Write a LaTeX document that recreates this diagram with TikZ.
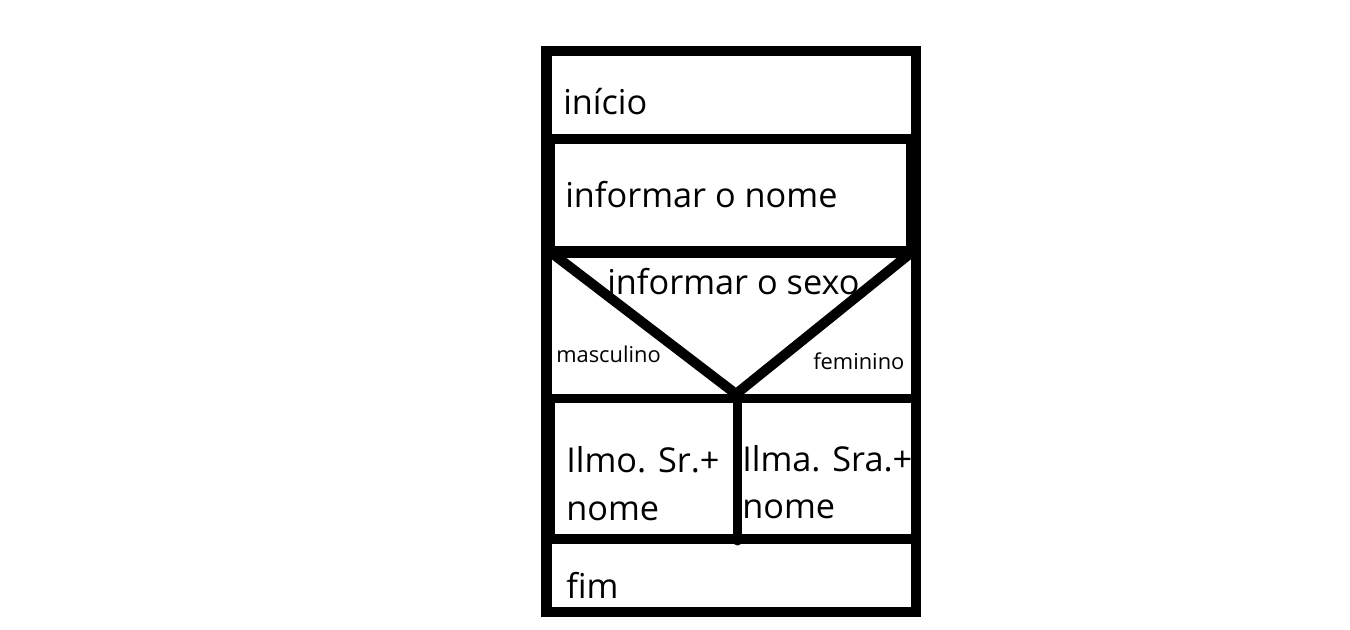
\documentclass[tikz,border=0pt]{standalone}
\usepackage{fontspec}
\setmainfont{Open Sans}
\begin{document}
\begin{tikzpicture}[x=0.75pt,y=-0.75pt,
  big/.style={inner sep=0pt,anchor=base west,font=\fontsize{25.7pt}{30pt}\selectfont},
  small/.style={inner sep=0pt,anchor=base west,font=\fontsize{16.4pt}{19pt}\selectfont},
  bar/.style={fill=black}]
\useasboundingbox (0,0) rectangle (1350,629);
% outer frame
\fill[bar] (541,46) rectangle (552,617);
\fill[bar] (911,46) rectangle (921,617);
\fill[bar] (541,46) rectangle (921,56);
\fill[bar] (541,607) rectangle (921,617);
% dividers
\fill[bar] (541,134) rectangle (921,144);
\fill[bar] (541,139) rectangle (555,252);
\fill[bar] (906,139) rectangle (921,252);
\fill[bar] (541,246) rectangle (921,258);
\fill[bar] (541,394) rectangle (921,403);
\fill[bar] (541,398) rectangle (555,540);
\fill[bar] (541,534) rectangle (921,544);
\draw[line width=6.75pt,line cap=round] (737.5,398) -- (737.5,541);
% decision triangle
\draw[line width=7.5pt,line join=round] (553,254) -- (736,394) -- (912,252);
% texts
\node[big] (t1) at (563,114) {início};
\node[big] (t2) at (565,207) {informar o nome};
\node[big] (t3) at (607,294) {informar o sexo};
\node[small] (m) at (556,362) {masculino};
\node[small] (f) at (813,369) {feminino};
\node[big] (a1) at (566,472) {Ilmo. Sr.+};
\node[big] (a2) at (566,520) {nome};
\node[big] (b1) at (742,471) {Ilma. Sra.+};
\node[big] (b2) at (742,518) {nome};
\node[big] (t4) at (566,598) {fim};
\end{tikzpicture}
\end{document}
